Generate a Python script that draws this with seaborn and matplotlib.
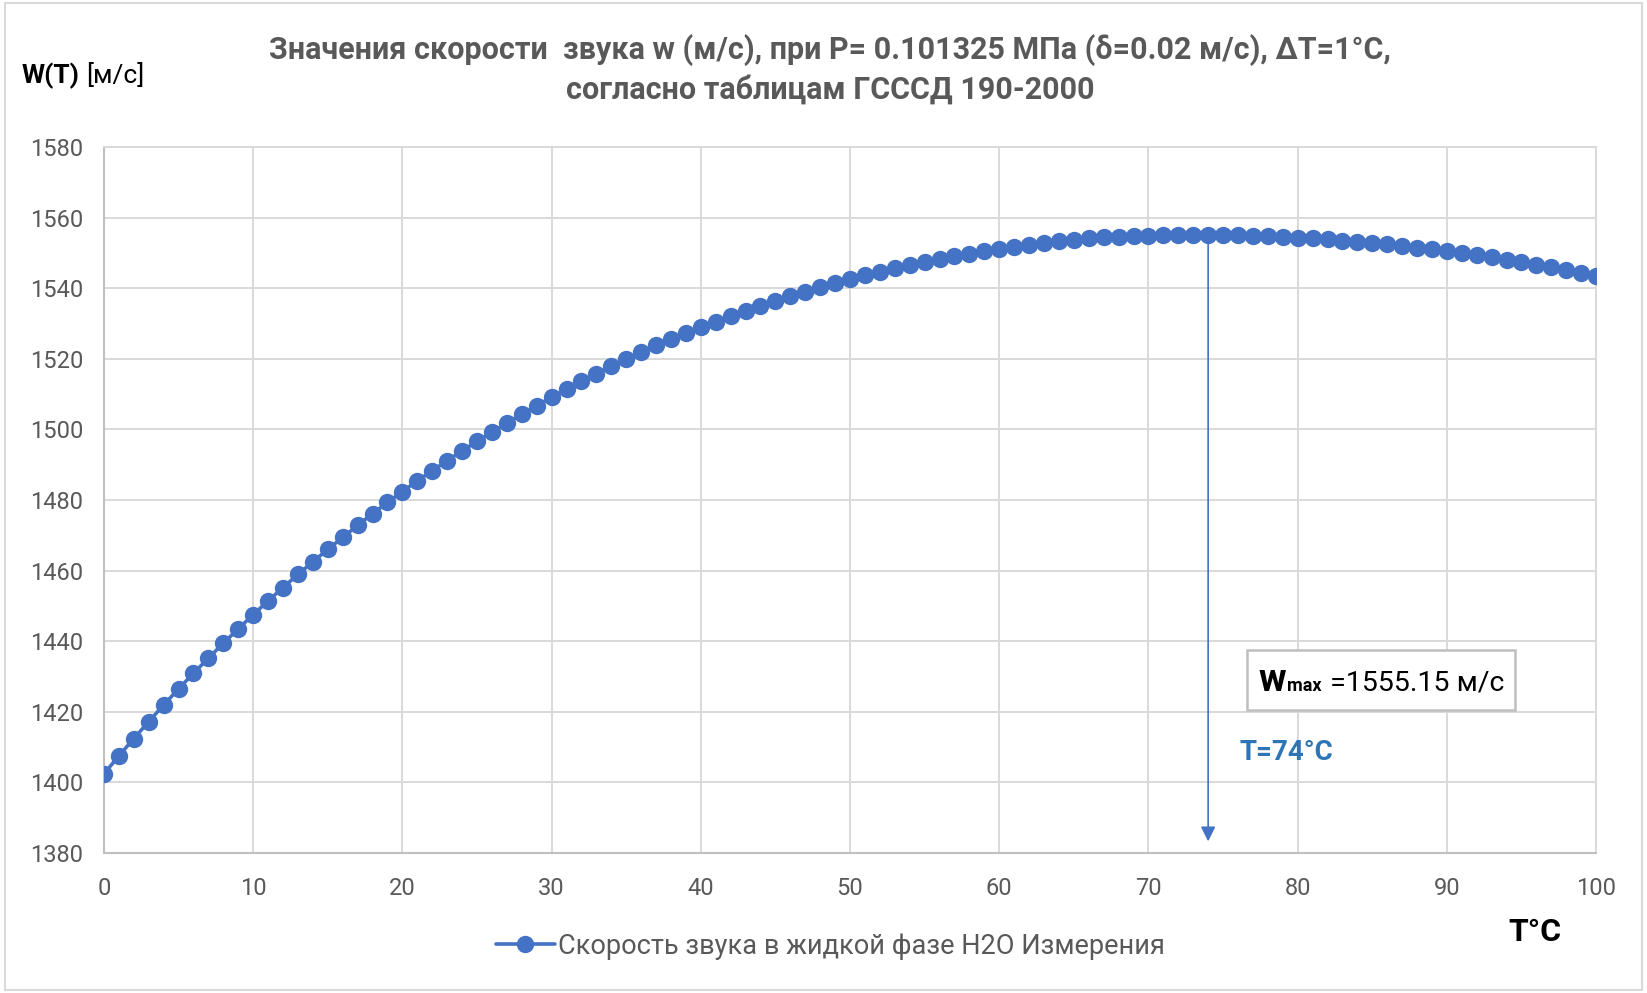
import numpy as np
import pandas as pd
import seaborn as sns
import matplotlib.pyplot as plt
from matplotlib.patches import Rectangle
from matplotlib.offsetbox import TextArea, HPacker, AnchoredOffsetbox

# температура, °C (шаг 1 °C)
temperatura = list(range(0, 101))

# скорость звука, м/с
skorost = [
    1402.4, 1407.5, 1412.4, 1417.2, 1421.9, 1426.5, 1430.9, 1435.2, 1439.4, 1443.5,
    1447.5, 1451.4, 1455.2, 1458.9, 1462.5, 1466.0, 1469.4, 1472.8, 1476.1, 1479.3,
    1482.4, 1485.4, 1488.3, 1491.1, 1493.9, 1496.6, 1499.2, 1501.8, 1504.3, 1506.7,
    1509.1, 1511.4, 1513.6, 1515.8, 1517.9, 1519.9, 1521.9, 1523.8, 1525.6, 1527.3,
    1528.9, 1530.5, 1532.0, 1533.5, 1534.9, 1536.3, 1537.7, 1539.0, 1540.2, 1541.4,
    1542.6, 1543.7, 1544.7, 1545.7, 1546.6, 1547.5, 1548.3, 1549.1, 1549.8, 1550.5,
    1551.2, 1551.8, 1552.3, 1552.8, 1553.3, 1553.7, 1554.1, 1554.4, 1554.6, 1554.8,
    1554.9, 1555.0, 1555.1, 1555.1, 1555.15, 1555.1, 1555.0, 1554.9, 1554.7, 1554.5,
    1554.3, 1554.1, 1553.8, 1553.5, 1553.2, 1552.8, 1552.4, 1552.0, 1551.5, 1551.0,
    1550.5, 1550.0, 1549.4, 1548.8, 1548.1, 1547.4, 1546.7, 1545.9, 1545.1, 1544.3,
    1543.4,
]

t_max = 74
w_max = 1555.15
y_ticks = list(range(1380, 1581, 20))
x_ticks = list(range(0, 101, 10))

serie = 'Скорость звука в жидкой фазе H2O Измерения'
titulo = ('Значения скорости  звука w (м/с), при P= 0.101325 МПа (δ=0.02 м/с), ΔT=1°C,\n'
          'согласно таблицам ГСССД 190-2000')

datos = pd.DataFrame({'T': temperatura, 'W': skorost})

sns.set_style('white')
plt.rcParams['font.family'] = ['Roboto', 'DejaVu Sans']

azul = '#4472C4'
gris = '#595959'
rejilla = '#D9D9D9'

fig = plt.figure(figsize=(16.47, 9.93), dpi=100)
ax = fig.add_axes([0.0631, 0.141, 0.906, 0.711])

sns.lineplot(data=datos, x='T', y='W', marker='o', color=azul, linewidth=2.6,
             markersize=12.5, markeredgewidth=0, label=serie, ax=ax, zorder=3)

ax.set_xlim(0, 100)
ax.set_ylim(1380, 1580)
ax.set_xticks(x_ticks)
ax.set_yticks(y_ticks)
ax.set_xticks(range(0, 101), minor=True)
ax.grid(True, which='major', color=rejilla, linewidth=1.4)
ax.set_axisbelow(True)
ax.tick_params(axis='x', which='major', length=0, pad=17, labelsize=17, labelcolor=gris)
ax.tick_params(axis='x', which='minor', direction='in', length=5, width=1, color='#BFBFBF')
ax.tick_params(axis='y', length=0, pad=15, labelsize=17, labelcolor=gris)
ax.set_xlabel('')
ax.set_ylabel('')
for lado in ['left', 'bottom']:
    ax.spines[lado].set_color('#BFBFBF')
    ax.spines[lado].set_linewidth(1.5)
for lado in ['top', 'right']:
    ax.spines[lado].set_color(rejilla)
    ax.spines[lado].set_linewidth(1.4)

# стрелка к максимуму
ax.annotate('', xy=(t_max, 1382.5), xytext=(t_max, w_max),
            arrowprops=dict(arrowstyle='-|>', color=azul, lw=1.2, mutation_scale=22),
            zorder=2)

ax.text(0.761, 0.143, f'T={t_max}°C', transform=ax.transAxes, color='#2E75B6',
        fontsize=20, fontweight='bold', va='center', ha='left')

partes = HPacker(children=[
    TextArea('w', textprops=dict(fontsize=27, fontweight='bold', color='black')),
    TextArea('max', textprops=dict(fontsize=13, fontweight='bold', color='black')),
    TextArea(f' ={w_max} м/с', textprops=dict(fontsize=20.5, color='black')),
], align='baseline', pad=0, sep=1)
caja = AnchoredOffsetbox(loc='center', child=partes, pad=0.5, borderpad=0,
                         bbox_to_anchor=(0.856, 0.245), bbox_transform=ax.transAxes,
                         frameon=True)
caja.patch.set_edgecolor('#BFBFBF')
caja.patch.set_linewidth(1.8)
caja.patch.set_boxstyle('square', pad=0.3)
ax.add_artist(caja)

leg = ax.legend(loc='center', bbox_to_anchor=(0.504, 0.047), bbox_transform=fig.transFigure,
                frameon=False, fontsize=19.5, handlelength=2.2, handletextpad=0.1)
for txt in leg.get_texts():
    txt.set_color(gris)

fig.text(0.504, 0.9305, titulo, ha='center', va='center', fontsize=22,
         fontweight='bold', color=gris, linespacing=1.35)
fig.text(0.0128, 0.9235, 'W(T)', ha='left', va='center', fontsize=19,
         fontweight='bold', color='black')
fig.text(0.0525, 0.9235, '[м/с]', ha='left', va='center', fontsize=19, color='black')
fig.text(0.932, 0.0614, 'T°C', ha='center', va='center', fontsize=23,
         fontweight='bold', color='black')

fig.patches.append(Rectangle((0.003, 0.003), 0.994, 0.994, transform=fig.transFigure,
                             fill=False, edgecolor=rejilla, linewidth=1.5))

fig.savefig('out.png', dpi=100, facecolor='white')
